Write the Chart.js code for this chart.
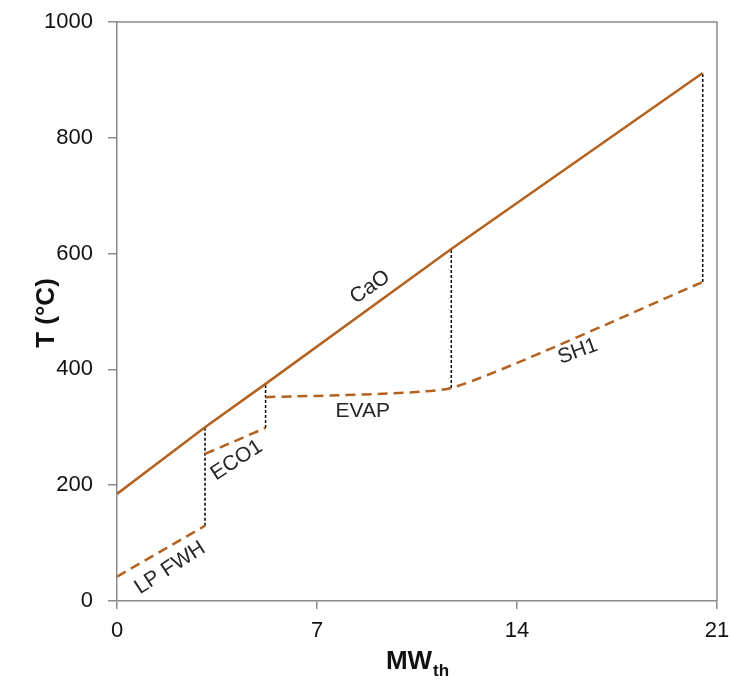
<!DOCTYPE html>
<html>
<head>
<meta charset="utf-8">
<script src="https://cdn.jsdelivr.net/npm/chart.js@4"></script>
<style>
html,body{margin:0;padding:0;background:#fff;}
#wrap{width:730px;height:682px;position:relative;}
</style>
</head>
<body>
<div id="wrap"><canvas id="c" width="730" height="682"></canvas></div>
<script>
// ---- data ----
const xTicks = [0, 7, 14, 21];
const yTicks = [0, 200, 400, 600, 800, 1000];

const caoX = [0, 3.08, 5.2, 11.7, 20.5];
const caoY = [185, 300, 375, 608, 912];

const lpfwhX = [0, 3.08];
const lpfwhY = [42, 130];

const eco1X = [3.08, 5.2];
const eco1Y = [254, 299];

const evapSh1X = [5.2, 11.7, 20.5];
const evapSh1Y = [352, 368, 551];

const dropX = [3.08, 5.2, 11.7, 20.5];
const dropLo = [130, 299, 368, 551];
const dropHi = [300, 375, 608, 912];

const labelText = ['CaO', 'ECO1', 'LP FWH', 'EVAP', 'SH1'];
const labelX = [8.86, 4.19, 1.86, 8.6, 16.13];
const labelY = [542, 243, 57, 327, 431];
const labelAngle = [-35, -33, -33, 0, -20];

// ---- helpers ----
const pts = (xs, ys) => xs.map((x, i) => ({x: x, y: ys[i]}));
const dropPts = [];
dropX.forEach((x, i) => {
  dropPts.push({x: x, y: dropLo[i]});
  dropPts.push({x: x, y: dropHi[i]});
  dropPts.push({x: x, y: null});
});

const BROWN = '#B3621F';
const AXIS = '#8a8a8a';
const FONT = "'Liberation Sans', Arial, sans-serif";

const decor = {
  id: 'decor',
  afterDatasetsDraw(chart) {
    const ctx = chart.ctx;
    const a = chart.chartArea;
    const xs = chart.scales.x, ys = chart.scales.y;
    ctx.save();
    // frame top & right
    ctx.strokeStyle = AXIS;
    ctx.lineWidth = 1.5;
    ctx.beginPath();
    ctx.moveTo(a.left, a.top);
    ctx.lineTo(a.right, a.top);
    ctx.lineTo(a.right, a.bottom);
    ctx.stroke();
    // in-plot labels
    ctx.fillStyle = '#262626';
    ctx.font = '21px ' + FONT;
    ctx.textAlign = 'center';
    ctx.textBaseline = 'middle';
    labelText.forEach((t, i) => {
      const px = xs.getPixelForValue(labelX[i]);
      const py = ys.getPixelForValue(labelY[i]);
      ctx.save();
      ctx.translate(px, py);
      ctx.rotate(labelAngle[i] * Math.PI / 180);
      ctx.fillText(t, 0, 0);
      ctx.restore();
    });
    // y title
    ctx.fillStyle = '#111';
    ctx.font = 'bold 26px ' + FONT;
    ctx.save();
    ctx.translate(47, 313);
    ctx.rotate(-Math.PI / 2);
    ctx.textAlign = 'center';
    ctx.textBaseline = 'middle';
    ctx.fillText('T (\u00B0C)', 0, 0);
    ctx.restore();
    // x title with subscript
    const main = 'MW', sub = 'th';
    ctx.font = 'bold 26px ' + FONT;
    const w1 = ctx.measureText(main).width;
    ctx.font = 'bold 17px ' + FONT;
    const w2 = ctx.measureText(sub).width;
    const cx = 417;
    const startX = cx - (w1 + w2) / 2;
    const baseY = 669;
    ctx.textAlign = 'left';
    ctx.textBaseline = 'alphabetic';
    ctx.font = 'bold 26px ' + FONT;
    ctx.fillText(main, startX, baseY);
    ctx.font = 'bold 17px ' + FONT;
    ctx.fillText(sub, startX + w1 + 1, baseY + 7);
    ctx.restore();
  }
};

new Chart(document.getElementById('c'), {
  type: 'line',
  data: {
    datasets: [
      {label: 'CaO', data: pts(caoX, caoY), borderColor: BROWN, borderWidth: 2.5, pointRadius: 0, tension: 0},
      {label: 'LP FWH', data: pts(lpfwhX, lpfwhY), borderColor: BROWN, borderWidth: 2.5, borderDash: [10, 6], pointRadius: 0},
      {label: 'ECO1', data: pts(eco1X, eco1Y), borderColor: BROWN, borderWidth: 2.5, borderDash: [10, 6], pointRadius: 0},
      {label: 'EVAP/SH1', data: pts(evapSh1X, evapSh1Y), borderColor: BROWN, borderWidth: 2.5, borderDash: [10, 6], pointRadius: 0, tension: 0.15},
      {label: 'drops', data: dropPts, borderColor: '#000', borderWidth: 1.5, borderDash: [3, 2], pointRadius: 0, spanGaps: false}
    ]
  },
  options: {
    responsive: false,
    animation: false,
    layout: {padding: {top: 22, right: 13, left: 0, bottom: 0}},
    plugins: {legend: {display: false}, tooltip: {enabled: false}},
    scales: {
      x: {
        type: 'linear', min: 0, max: 21,
        afterBuildTicks(s) { s.ticks = xTicks.map(v => ({value: v})); },
        afterFit(s) { s.height = 81; s.paddingLeft = 0; s.paddingRight = 0; },
        grid: {display: true, drawOnChartArea: false, drawTicks: true, tickLength: 8, color: AXIS, lineWidth: 1.5},
        border: {display: true, color: AXIS, width: 1.5},
        ticks: {font: {family: FONT, size: 22}, color: '#111', padding: 9, maxRotation: 0, callback: v => String(v)}
      },
      y: {
        type: 'linear', min: 0, max: 1000,
        afterBuildTicks(s) { s.ticks = yTicks.map(v => ({value: v})); },
        afterFit(s) { s.width = 117; s.paddingTop = 0; s.paddingBottom = 0; },
        grid: {display: true, drawOnChartArea: false, drawTicks: true, tickLength: 9, color: AXIS, lineWidth: 1.5},
        border: {display: true, color: AXIS, width: 1.5},
        ticks: {font: {family: FONT, size: 22}, color: '#111', padding: 15, callback: v => String(v)}
      }
    }
  },
  plugins: [decor]
});
</script>
</body>
</html>
